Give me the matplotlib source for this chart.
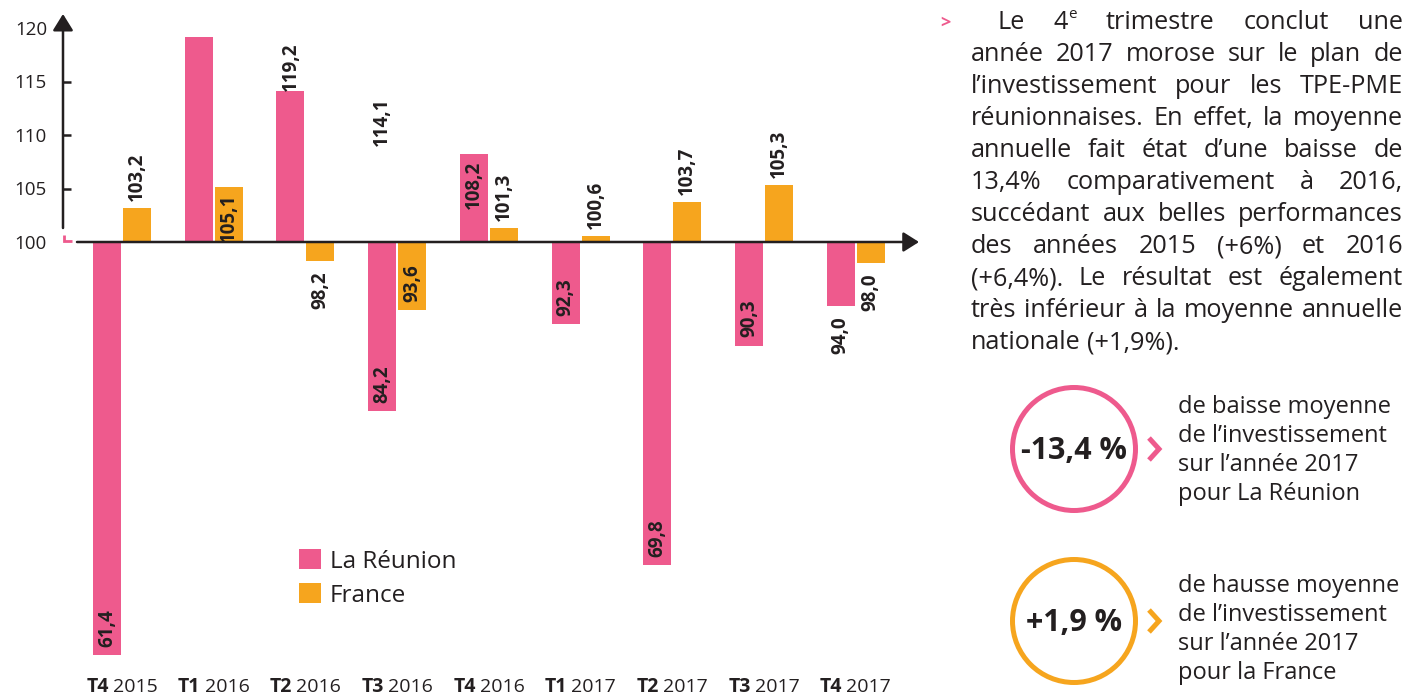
import matplotlib
matplotlib.use('Agg')
import matplotlib.pyplot as plt
from matplotlib.patches import Circle

# ---------------- data ----------------
quarters = ['T4', 'T1', 'T2', 'T3', 'T4', 'T1', 'T2', 'T3', 'T4']
years = ['2015', '2016', '2016', '2016', '2016', '2017', '2017', '2017', '2017']
reunion = [61.4, 119.2, 114.1, 84.2, 108.2, 92.3, 69.8, 90.3, 94.0]
france = [103.2, 105.1, 98.2, 93.6, 101.3, 100.6, 103.7, 105.3, 98.0]
series_names = ['La Réunion', 'France']
yticks = [100, 105, 110, 115, 120]
base = 100

# label placement styles as in the original picture
reunion_label_mode = ['in', 'in', 'in', 'in', 'in', 'in', 'in', 'in', 'out']
reunion_label_shift = [0, 1, 1, 0, 0, 0, 0, 0, 0]
france_label_mode = ['out', 'in', 'out', 'in', 'out', 'out', 'out', 'out', 'out']

paragraph = [
    'Le 4^e trimestre conclut une',
    'année 2017 morose sur le plan de',
    'l’investissement pour les TPE-PME',
    'réunionnaises. En effet, la moyenne',
    'annuelle fait état d’une baisse de',
    '13,4% comparativement à 2016,',
    'succédant aux belles performances',
    'des années 2015 (+6%) et 2016',
    '(+6,4%). Le résultat est également',
    'très inférieur à la moyenne annuelle',
    'nationale (+1,9%).',
]
kpi_values = ['-13,4 %', '+1,9 %']
kpi_texts = [
    ['de baisse moyenne', 'de l’investissement', 'sur l’année 2017', 'pour La Réunion'],
    ['de hausse moyenne', 'de l’investissement', 'sur l’année 2017', 'pour la France'],
]

# ---------------- style ----------------
PINK = '#EE5A8D'
ORANGE = '#F6A51E'
DARK = '#231F20'
FONT = ['Open Sans', 'DejaVu Sans']
plt.rcParams['font.family'] = FONT

W, H = 1408, 698
fig = plt.figure(figsize=(W / 100, H / 100), dpi=100)
PT = 0.72  # points per pixel at 100 dpi

GROUP_PX = 91.7
X0_PX = 122
Y100_PX = 242
UNIT_PX = 10.7
AX_L, AX_R, AX_T, AX_B = 63, 919, 14, 692


def px2x(px):
    return (px - X0_PX) / GROUP_PX


def px2y(py):
    return base - (py - Y100_PX) / UNIT_PX


ax = fig.add_axes([AX_L / W, 1 - AX_B / H, (AX_R - AX_L) / W, (AX_B - AX_T) / H])
ax.set_xlim(px2x(AX_L), px2x(AX_R))
ax.set_ylim(px2y(AX_B), px2y(AX_T))
for s in ax.spines.values():
    s.set_visible(False)
ax.patch.set_alpha(0)

bw = 28 / GROUP_PX
off = 15 / GROUP_PX
xs = list(range(len(quarters)))
b1 = ax.bar([i - off for i in xs], [v - base for v in reunion], bottom=base,
            width=bw, color=PINK, label=series_names[0], zorder=2)
b2 = ax.bar([i + off for i in xs], [v - base for v in france], bottom=base,
            width=bw, color=ORANGE, label=series_names[1], zorder=2)


def fmt(v):
    return f'{v:.1f}'.replace('.', ',')


def bar_label(xc, v, mode):
    pos = v >= base
    if pos and mode == 'in':
        dy, va = -6, 'top'
    elif pos:
        dy, va = 7, 'bottom'
    elif mode == 'in':
        dy, va = 8.5, 'bottom'
    else:
        dy, va = -10, 'top'
    ax.annotate(fmt(v), xy=(xc, v), xytext=(0, dy * PT), textcoords='offset points',
                rotation=90, ha='center', va=va, fontsize=13.5, fontweight='bold',
                color=DARK, annotation_clip=False, zorder=4)


for i in xs:
    bar_label(i - off + reunion_label_shift[i], reunion[i], reunion_label_mode[i])
    bar_label(i + off, france[i], france_label_mode[i])

# axes with arrows
xl, xr = ax.get_xlim()
yb, yt = ax.get_ylim()
ax.annotate('', xy=(xr, base), xytext=(px2x(77), base),
            arrowprops=dict(arrowstyle='-|>,head_length=0.95,head_width=0.6', lw=1.8,
                            color=DARK, shrinkA=0, shrinkB=0, mutation_scale=10),
            annotation_clip=False, zorder=3)
ax.annotate('', xy=(xl, yt), xytext=(xl, px2y(228)),
            arrowprops=dict(arrowstyle='-|>,head_length=1.0,head_width=0.62', lw=1.8,
                            color=DARK, shrinkA=0, shrinkB=0, mutation_scale=10),
            annotation_clip=False, zorder=3)
ax.plot([xl + 1 / GROUP_PX, xl + 1 / GROUP_PX, xl + 9 / GROUP_PX],
        [px2y(235), px2y(241), px2y(241)], color=PINK, lw=2, clip_on=False,
        solid_capstyle='butt', solid_joinstyle='miter', zorder=3)

ax.set_yticks(yticks)
ax.set_yticklabels([str(t) for t in yticks])
ax.tick_params(axis='y', direction='in', length=8 * PT, width=1.8, color=DARK,
               pad=11.5, labelsize=13.5, labelcolor=DARK)
for t, tick in zip(yticks, ax.yaxis.get_major_ticks()):
    if t in (100, 120):
        tick.tick1line.set_visible(False)
ax.tick_params(axis='x', length=0, labelbottom=False)
ax.set_xticks([])

renderer = fig.canvas.get_renderer()


def measure(s, size, weight='normal'):
    t = fig.text(0, 0, s, fontsize=size, fontweight=weight)
    w = t.get_window_extent(renderer).width
    t.remove()
    return w


# x category labels: bold quarter + regular year
XL_SIZE = 14
y_lab = px2y(692)
for i in xs:
    wb = measure(quarters[i], XL_SIZE, 'bold')
    ws = measure(' ', XL_SIZE) * 0.8
    wy = measure(years[i], XL_SIZE)
    tot = wb + ws + wy
    ax.annotate(quarters[i], xy=(i, y_lab), xytext=(-tot / 2 * PT, 0), textcoords='offset points',
                ha='left', va='baseline', fontsize=XL_SIZE, fontweight='bold', color=DARK,
                annotation_clip=False)
    ax.annotate(years[i], xy=(i, y_lab), xytext=((-tot / 2 + wb + ws) * PT, 0),
                textcoords='offset points', ha='left', va='baseline', fontsize=XL_SIZE,
                color=DARK, annotation_clip=False)

# legend
LEG_SIZE = 17.5
leg = ax.legend(handles=[b1, b2], labels=series_names, loc='upper left',
                bbox_to_anchor=(299 / W, 1 - 549 / H), bbox_transform=fig.transFigure,
                frameon=False, fontsize=LEG_SIZE, handlelength=22 / (LEG_SIZE / PT),
                handleheight=22 / (LEG_SIZE / PT), handletextpad=0.36, labelspacing=0.4,
                borderpad=0, borderaxespad=0)
for t in leg.get_texts():
    t.set_color(DARK)

# ---------------- right-hand panel ----------------
ov = fig.add_axes([0, 0, 1, 1])
ov.set_xlim(0, W)
ov.set_ylim(H, 0)
ov.axis('off')

P_LEFT, P_RIGHT, P_INDENT = 971, 1403, 26
P_BASE0, P_STEP = 29, 32


def word_parts(word):
    if '^' in word:
        a, b = word.split('^')
        return [(a, 1.0, 0.0), (b, 0.6, 0.42)]
    return [(word, 1.0, 0.0)]


def word_width(word, size):
    return sum(measure(p, size * sc) for p, sc, _ in word_parts(word))


P_SIZE = 17.0
space0 = measure(' ', P_SIZE)
nat = []
for k, line in enumerate(paragraph):
    words = line.split(' ')
    nat.append(sum(word_width(w, P_SIZE) for w in words) + space0 * (len(words) - 1)
               + (P_INDENT if k == 0 else 0))
P_SIZE *= (P_RIGHT - P_LEFT) * 0.99 / max(nat)

space = measure(' ', P_SIZE)
for k, line in enumerate(paragraph):
    words = line.split(' ')
    widths = [word_width(w, P_SIZE) for w in words]
    start = P_LEFT + (P_INDENT if k == 0 else 0)
    yb_ = P_BASE0 + k * P_STEP
    if k < len(paragraph) - 1 and len(words) > 1:
        gap = (P_RIGHT - start - sum(widths)) / (len(words) - 1)
    else:
        gap = space
    xcur = start
    for w, wd in zip(words, widths):
        xx = xcur
        for p, sc, rise in word_parts(w):
            ov.text(xx, yb_ - rise * P_SIZE / PT, p, fontsize=P_SIZE * sc, color=DARK,
                    ha='left', va='baseline')
            xx += measure(p, P_SIZE * sc)
        xcur += wd + gap

ov.text(945, 28, '>', fontsize=13, fontweight='bold', color=PINK, ha='center', va='baseline')

# KPI circles
circle_centers = [(1074, 449), (1074, 621)]
colors = [PINK, ORANGE]
text_base0 = [413, 592]
K_SIZE = 22 * 106 / measure(kpi_values[0], 22, 'bold')
for (cx, cy), col, val, lines, tb in zip(circle_centers, colors, kpi_values, kpi_texts, text_base0):
    ov.add_patch(Circle((cx, cy), 61.5, fill=False, lw=5 * PT, ec=col))
    ov.text(cx, cy + 2, val, fontsize=K_SIZE, fontweight='bold', color=DARK,
            ha='center', va='center')
    ov.plot([cx + 75, cx + 85, cx + 75], [cy - 11, cy, cy + 11], color=col, lw=5 * PT,
            solid_capstyle='butt', solid_joinstyle='miter')
    for j, ln in enumerate(lines):
        ov.text(1178, tb + j * 28.9, ln, fontsize=17, color=DARK, ha='left', va='baseline')

fig.savefig('out.png', dpi=100)
